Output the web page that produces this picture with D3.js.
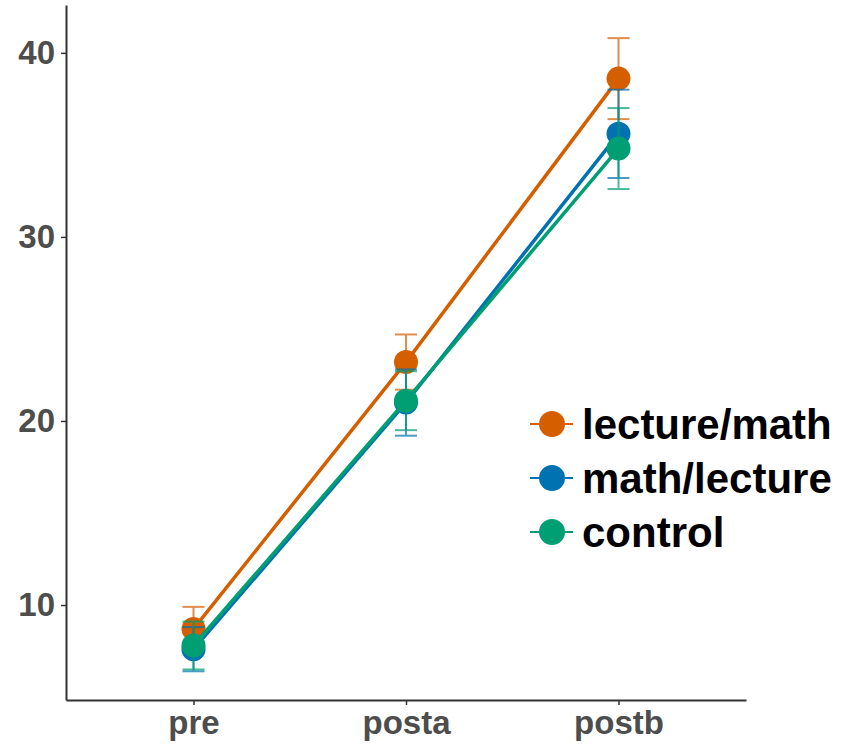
<!DOCTYPE html>
<html>
<head>
<meta charset="utf-8">
<script src="https://cdn.jsdelivr.net/npm/d3@7"></script>
<style>
  body { margin: 0; background: #fff; }
  svg { display: block; }
</style>
</head>
<body>
<div id="chart"></div>
<script>
var W = 846, H = 744;

// data
var times = ["pre", "posta", "postb"];
var groups = ["lecture/math", "math/lecture", "control"];
var colors = ["#D55E00", "#0072B2", "#009E73"];
var meanLectureMath = [8.7, 23.2, 38.6];
var meanMathLecture = [7.6, 21.0, 35.6];
var meanControl = [7.8, 21.1, 34.8];
var seLectureMath = [1.2, 1.5, 2.2];
var seMathLecture = [1.2, 1.8, 2.4];
var seControl = [1.3, 1.6, 2.2];
var yTicks = [10, 20, 30, 40];

var means = [meanLectureMath, meanMathLecture, meanControl];
var ses = [seLectureMath, seMathLecture, seControl];

var series = groups.map(function (g, i) {
    return {
        name: g,
        color: colors[i],
        values: times.map(function (t, j) {
            return { time: t, mean: means[i][j], se: ses[i][j] };
        })
    };
});

var margin = { top: 5, right: 100, bottom: 44, left: 66 },
    width = W - margin.left - margin.right,
    height = H - margin.top - margin.bottom;

var svg = d3.select("#chart")
    .append("svg")
    .attr("width", W)
    .attr("height", H)
    .append("g")
    .attr("transform", "translate(" + margin.left + "," + margin.top + ")");

var x = d3.scalePoint()
    .domain(times)
    .range([0, width])
    .padding(0.6);

var y = d3.scaleLinear()
    .domain([4.84, 42.6])
    .range([height, 0]);

// axes
var yAxis = svg.append("g")
    .call(d3.axisLeft(y).tickValues(yTicks).tickSize(5).tickSizeOuter(0).tickPadding(6));
var xAxis = svg.append("g")
    .attr("transform", "translate(0," + height + ")")
    .call(d3.axisBottom(x).tickSize(5).tickSizeOuter(0).tickPadding(6));

[yAxis, xAxis].forEach(function (a) {
    a.select(".domain").attr("stroke", "#333").attr("stroke-width", 2);
    a.selectAll(".tick line").attr("stroke", "#333").attr("stroke-width", 1.5);
    a.selectAll(".tick text")
        .attr("fill", "#4d4d4d")
        .style("font-family", "'Liberation Sans', Arial, sans-serif")
        .style("font-weight", "bold")
        .style("font-size", "33px");
});

var capW = 11;

// error bars, lines, points for each group
series.forEach(function (s) {
    var g = svg.append("g");

    var eb = g.selectAll(".eb")
        .data(s.values)
        .enter()
        .append("g")
        .attr("opacity", 0.7)
        .attr("stroke", s.color)
        .attr("stroke-width", 2);
    eb.append("line")
        .attr("x1", d => x(d.time)).attr("x2", d => x(d.time))
        .attr("y1", d => y(d.mean - d.se)).attr("y2", d => y(d.mean + d.se));
    eb.append("line")
        .attr("x1", d => x(d.time) - capW).attr("x2", d => x(d.time) + capW)
        .attr("y1", d => y(d.mean + d.se)).attr("y2", d => y(d.mean + d.se));
    eb.append("line")
        .attr("x1", d => x(d.time) - capW).attr("x2", d => x(d.time) + capW)
        .attr("y1", d => y(d.mean - d.se)).attr("y2", d => y(d.mean - d.se));

    var line = d3.line()
        .x(d => x(d.time))
        .y(d => y(d.mean));
    g.append("path")
        .datum(s.values)
        .attr("d", line)
        .attr("fill", "none")
        .attr("stroke", s.color)
        .attr("stroke-width", 3.5);

    g.selectAll("circle")
        .data(s.values)
        .enter()
        .append("circle")
        .attr("cx", d => x(d.time))
        .attr("cy", d => y(d.mean))
        .attr("r", 12)
        .attr("fill", s.color);
});

// legend
var legend = svg.append("g")
    .attr("transform", "translate(" + (552 - margin.left) + "," + (424 - margin.top) + ")");

groups.forEach(function (name, i) {
    var row = legend.append("g").attr("transform", "translate(0," + (i * 54) + ")");
    row.append("line")
        .attr("x1", -22).attr("x2", 21)
        .attr("stroke", colors[i])
        .attr("stroke-width", 2);
    row.append("circle")
        .attr("r", 13)
        .attr("fill", colors[i]);
    row.append("text")
        .attr("x", 30)
        .attr("dy", "0.36em")
        .style("font-family", "'Liberation Sans', Arial, sans-serif")
        .style("font-weight", "bold")
        .style("font-size", "42px")
        .attr("fill", "#000")
        .text(name);
});
</script>
</body>
</html>
